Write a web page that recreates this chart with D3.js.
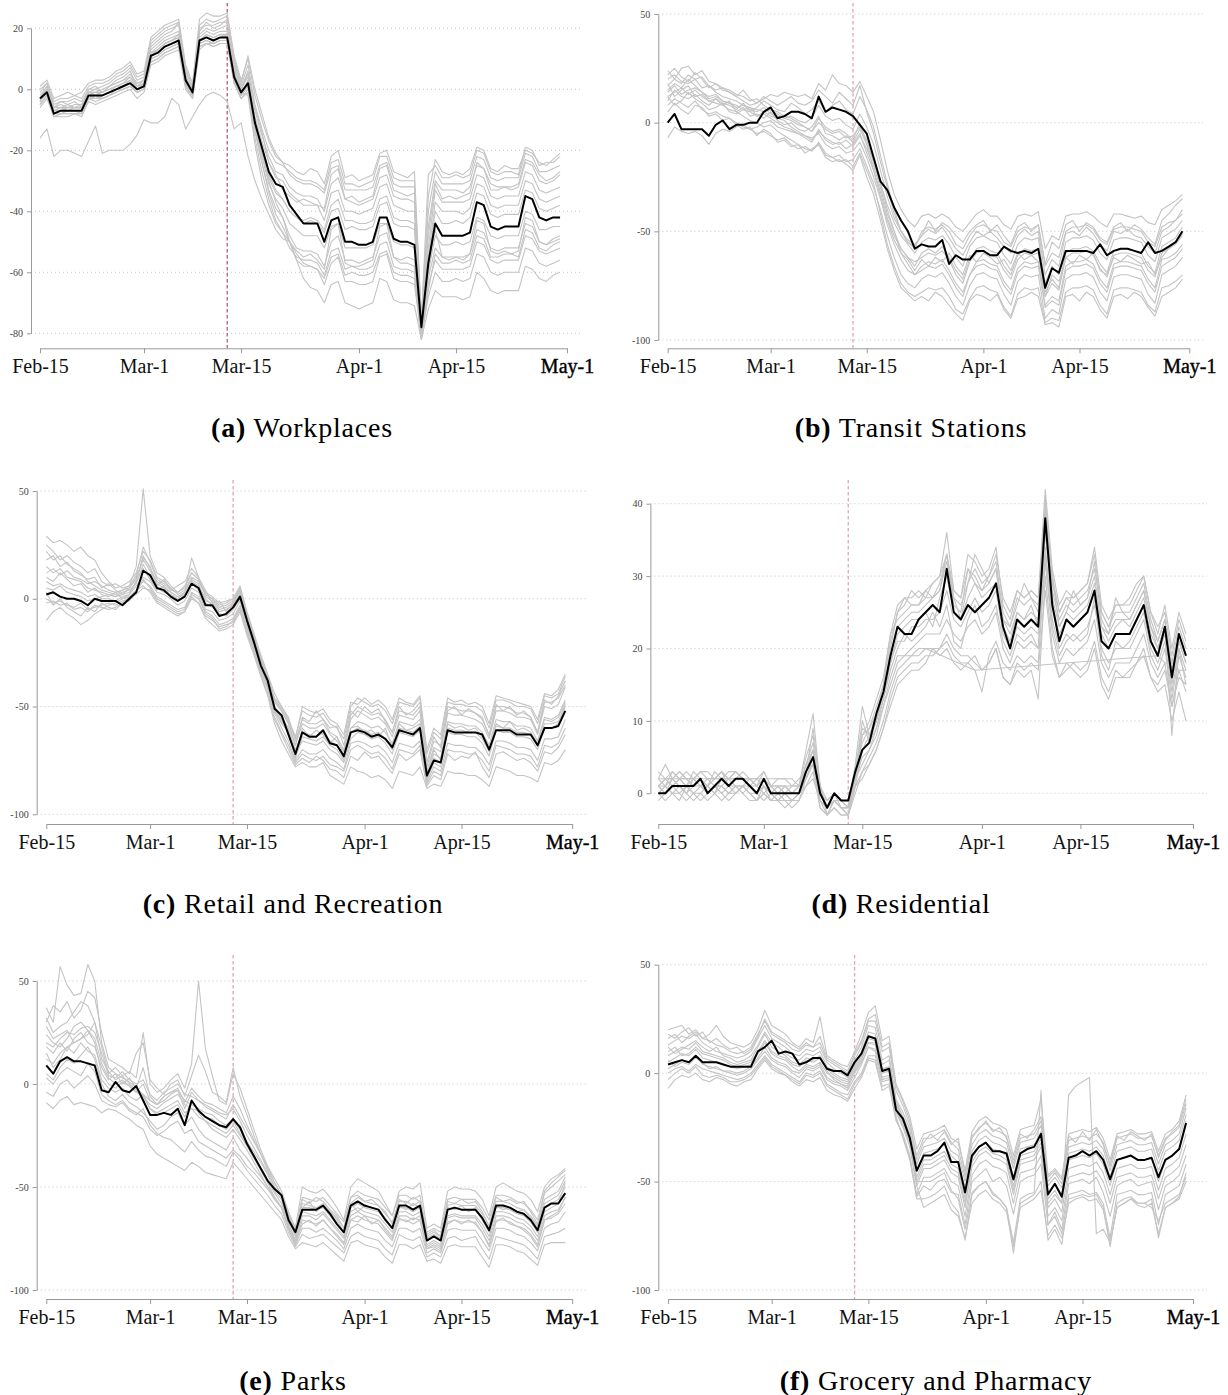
<!DOCTYPE html>
<html>
<head>
<meta charset="utf-8">
<script src="https://cdn.jsdelivr.net/npm/d3@7"></script>
<style>
  body { margin: 0; background: #fff; }
  svg { display: block; }
</style>
</head>
<body>
<svg id="fig" width="1228" height="1395"></svg>
<script>
// days are counted from Feb-15 (0) to Apr-30 (75)
const tickLabels = ["Feb-15", "Mar-1", "Mar-15", "Apr-1", "Apr-15", "May-1"];
const tickDays = [0, 15, 29, 46, 60, 76];
const lockdownDay = 27;

// (a) Workplaces
const workplacesTicks = [20, 0, -20, -40, -60, -80];
const workplacesMain = [-3,-1,-8,-7,-7,-7,-7,-2,-2,-2,-1,0,1,2,0,1,11,12,14,15,16,3,-1,16,17,16,17,17,4,-1,2,-11,-19,-27,-31,-32,-38,-41,-44,-44,-44,-50,-43,-42,-50,-50,-51,-51,-50,-42,-42,-49,-50,-50,-51,-78,-57,-44,-48,-48,-48,-48,-47,-37,-38,-45,-46,-45,-45,-45,-35,-36,-42,-43,-42,-42];
const workplacesOthers = [
  [-2,1,-5,-4,-4,-3,-4,0,0,1,2,4,5,7,3,4,15,17,19,20,21,6,0,20,21,21,22,22,9,1,8,-5,-13,-20,-24,-25,-27,-29,-30,-30,-31,-33,-24,-23,-31,-31,-32,-31,-30,-22,-22,-29,-30,-30,-30,-76,-28,-25,-29,-29,-28,-29,-28,-20,-21,-27,-28,-27,-27,-28,-19,-20,-25,-24,-24,-22],
  [-4,0,-6,-5,-6,-5,-5,-1,-1,0,1,2,3,5,2,3,13,15,17,18,19,4,-1,18,20,19,20,21,7,0,5,-7,-15,-22,-27,-28,-32,-34,-35,-35,-36,-40,-31,-29,-36,-37,-38,-37,-36,-29,-28,-35,-36,-36,-37,-79,-45,-30,-33,-33,-33,-34,-32,-25,-26,-31,-32,-32,-32,-31,-23,-24,-28,-30,-29,-27],
  [-3,1,-7,-6,-6,-6,-5,-1,-2,-1,0,1,2,4,1,2,12,14,16,17,18,3,-2,17,19,18,19,19,6,-2,3,-9,-17,-24,-29,-30,-34,-36,-38,-38,-38,-43,-34,-33,-40,-40,-41,-40,-39,-32,-31,-38,-39,-40,-40,-80,-52,-33,-37,-37,-37,-37,-36,-28,-29,-35,-36,-35,-35,-35,-27,-28,-33,-34,-33,-32],
  [-5,-2,-9,-8,-8,-8,-8,-3,-3,-3,-2,-1,0,1,-1,0,10,11,13,14,15,2,-2,15,16,15,16,16,3,-2,1,-12,-21,-29,-34,-36,-40,-42,-43,-42,-43,-46,-38,-36,-43,-43,-44,-44,-43,-36,-35,-42,-43,-43,-44,-81,-55,-37,-40,-40,-40,-41,-39,-31,-32,-38,-39,-38,-38,-38,-30,-31,-36,-37,-36,-35],
  [-6,-3,-9,-9,-9,-8,-9,-4,-5,-4,-3,-2,-1,0,-3,-1,8,9,11,12,13,0,-3,14,15,14,15,15,2,-3,0,-14,-24,-33,-39,-42,-48,-52,-53,-53,-54,-58,-50,-48,-56,-56,-57,-56,-55,-48,-47,-55,-56,-55,-56,-82,-62,-52,-55,-55,-55,-55,-54,-46,-47,-52,-53,-52,-52,-52,-44,-45,-50,-51,-50,-49],
  [-3,0,-6,-6,-5,-6,-6,-1,0,-1,1,2,3,4,2,3,12,13,15,16,17,4,0,16,18,17,18,18,5,0,4,-10,-20,-30,-37,-42,-50,-56,-58,-58,-59,-62,-55,-54,-61,-60,-61,-61,-60,-54,-53,-60,-61,-61,-62,-82,-64,-56,-59,-59,-59,-59,-58,-50,-51,-56,-57,-56,-56,-56,-48,-49,-53,-54,-53,-52],
  [-16,-13,-22,-20,-20,-21,-22,-17,-12,-21,-20,-20,-20,-18,-15,-10,-11,-11,-9,-3,-5,-13,-9,-5,-2,-1,-2,-4,-13,-11,-22,-30,-36,-41,-46,-49,-50,-56,-62,-65,-66,-70,-64,-63,-70,-71,-72,-71,-70,-62,-63,-69,-70,-70,-71,-82,-72,-66,-68,-68,-68,-69,-68,-60,-62,-66,-67,-66,-66,-66,-58,-59,-62,-63,-61,-60],
  [0,2,-4,-3,-3,-2,-3,1,2,2,3,5,6,8,4,5,16,18,20,21,22,7,1,21,23,22,23,24,10,2,11,0,-8,-16,-21,-24,-28,-30,-31,-31,-32,-34,-26,-25,-33,-33,-33,-33,-32,-25,-24,-31,-32,-32,-32,-77,-40,-27,-31,-31,-31,-31,-30,-22,-23,-29,-30,-29,-29,-29,-21,-22,-27,-27,-26,-25],
  [-4,-1,-8,-8,-7,-7,-8,-3,-2,-3,-2,0,0,1,-1,0,9,10,12,13,14,2,-2,15,16,15,16,16,3,-1,1,-13,-22,-31,-36,-39,-44,-46,-48,-48,-48,-52,-45,-44,-52,-52,-52,-52,-51,-44,-44,-50,-51,-51,-52,-80,-60,-48,-51,-51,-50,-51,-50,-42,-43,-48,-49,-48,-48,-48,-40,-41,-46,-46,-45,-45],
  [-5,-2,-8,-7,-7,-7,-7,-2,-3,-2,-1,0,1,2,0,1,10,11,13,14,15,1,-2,14,15,15,16,16,2,-2,1,-13,-24,-34,-41,-45,-50,-54,-57,-58,-59,-64,-57,-55,-63,-63,-64,-64,-63,-55,-54,-62,-63,-63,-64,-81,-68,-60,-63,-63,-62,-63,-62,-54,-55,-60,-61,-60,-60,-60,-52,-53,-57,-58,-57,-56],
  [-1,2,-6,-4,-5,-4,-6,0,1,-1,1,3,4,6,1,3,14,16,18,19,22,5,-2,19,22,20,21,23,8,0,6,-6,-14,-24,-28,-33,-35,-37,-36,-37,-38,-39,-28,-26,-36,-35,-37,-36,-35,-26,-25,-33,-34,-35,-34,-78,-48,-31,-36,-35,-36,-35,-34,-24,-26,-33,-33,-32,-33,-32,-24,-25,-30,-31,-30,-28],
  [-4,-1,-7,-6,-7,-6,-6,-2,-1,-2,-1,1,1,3,0,2,11,13,15,16,18,2,-1,16,18,17,18,17,4,-1,-2,-18,-30,-38,-44,-47,-50,-53,-55,-54,-56,-59,-46,-44,-57,-58,-58,-57,-56,-45,-44,-55,-57,-57,-58,-81,-58,-46,-55,-56,-55,-56,-54,-43,-44,-53,-54,-53,-54,-53,-42,-43,-50,-51,-49,-48],
  [1,3,-3,-2,-1,-2,-1,2,3,3,4,6,7,9,5,6,17,19,21,22,23,8,2,23,25,24,24,25,11,3,10,-2,-10,-17,-22,-24,-25,-27,-28,-26,-27,-31,-22,-20,-29,-28,-30,-29,-28,-21,-20,-27,-28,-29,-27,-75,-35,-23,-27,-28,-27,-28,-26,-19,-20,-26,-27,-25,-26,-26,-20,-21,-24,-25,-23,-21],
  [-3,0,-7,-7,-6,-6,-6,-1,-1,-1,0,1,2,3,1,2,12,13,15,16,17,3,-1,16,17,16,17,18,4,-1,2,-11,-20,-28,-33,-36,-40,-42,-44,-43,-44,-47,-40,-39,-46,-45,-46,-46,-45,-38,-37,-44,-45,-45,-46,-80,-57,-40,-44,-44,-43,-44,-42,-34,-35,-41,-42,-41,-41,-41,-33,-34,-39,-40,-39,-38],
  [-5,-2,-9,-8,-8,-8,-8,-3,-4,-3,-2,-1,0,1,-1,0,9,10,12,13,14,1,-3,13,15,14,15,15,2,-3,-1,-16,-27,-36,-43,-47,-52,-55,-56,-56,-57,-61,-53,-52,-59,-58,-59,-59,-58,-51,-50,-58,-59,-59,-60,-82,-66,-54,-57,-57,-56,-57,-56,-48,-49,-55,-55,-54,-54,-55,-46,-47,-52,-53,-51,-50]
];

// (b) Transit Stations
const transitTicks = [50, 0, -50, -100];
const transitMain = [0,4,-3,-3,-3,-3,-6,-1,1,-3,-1,-1,0,0,5,7,2,3,5,5,4,2,12,5,7,6,5,3,-1,-5,-16,-27,-31,-39,-45,-50,-58,-56,-57,-57,-54,-65,-61,-63,-63,-59,-59,-61,-61,-57,-59,-60,-59,-60,-58,-76,-67,-69,-59,-59,-59,-59,-60,-56,-61,-59,-58,-58,-59,-60,-55,-60,-59,-57,-55,-50];
const transitOthers = [
  [17,20,18,22,20,21,17,15,16,14,12,10,8,9,11,13,12,14,13,12,13,11,18,15,22,18,17,14,19,12,5,-8,-22,-33,-40,-45,-48,-43,-42,-44,-42,-44,-48,-50,-46,-42,-40,-43,-43,-47,-49,-43,-42,-43,-41,-58,-52,-54,-43,-42,-42,-41,-43,-46,-48,-42,-42,-43,-44,-43,-46,-47,-40,-38,-36,-33],
  [10,15,12,11,13,10,8,11,9,8,6,9,5,7,10,8,6,5,9,7,4,6,10,5,8,10,6,4,12,6,-2,-15,-28,-40,-50,-55,-58,-50,-48,-49,-47,-50,-56,-58,-52,-48,-47,-49,-50,-55,-57,-50,-48,-49,-47,-66,-60,-62,-50,-48,-48,-47,-49,-54,-56,-49,-48,-48,-49,-50,-55,-57,-48,-46,-45,-42],
  [15,18,16,20,17,14,12,13,10,9,8,6,5,3,4,2,0,-2,-3,-5,-6,-8,-4,-7,-9,-10,-8,-11,-6,-12,-20,-30,-42,-50,-58,-62,-66,-60,-58,-60,-57,-62,-68,-72,-63,-58,-57,-59,-60,-66,-70,-61,-58,-59,-58,-78,-72,-76,-60,-58,-58,-57,-59,-65,-69,-59,-58,-58,-59,-60,-66,-69,-57,-55,-53,-48],
  [20,22,19,18,20,16,17,14,12,11,10,8,7,6,5,3,2,1,-2,-4,-6,-7,-5,-10,-12,-11,-14,-13,-9,-16,-25,-35,-47,-56,-63,-68,-70,-66,-64,-65,-63,-68,-74,-78,-70,-64,-63,-65,-66,-73,-77,-67,-64,-65,-64,-84,-80,-82,-66,-64,-64,-63,-65,-72,-76,-65,-64,-64,-65,-66,-72,-76,-63,-62,-60,-56],
  [12,14,16,13,15,12,10,9,8,6,5,3,1,0,-2,-1,-4,-6,-8,-10,-12,-13,-10,-15,-16,-18,-17,-20,-14,-22,-30,-40,-52,-62,-70,-74,-76,-72,-70,-71,-69,-74,-80,-84,-75,-70,-69,-71,-72,-79,-84,-73,-70,-71,-70,-90,-86,-88,-72,-70,-70,-69,-71,-78,-82,-71,-70,-70,-71,-72,-79,-83,-70,-68,-66,-62],
  [8,11,9,7,10,6,4,5,3,2,0,-2,-3,-5,-4,-6,-8,-7,-10,-12,-11,-13,-9,-14,-16,-15,-18,-17,-12,-20,-28,-42,-56,-66,-74,-78,-80,-78,-76,-77,-76,-80,-86,-88,-81,-76,-75,-77,-78,-85,-89,-79,-76,-77,-76,-92,-90,-91,-78,-76,-76,-75,-77,-84,-88,-77,-76,-76,-77,-78,-84,-87,-76,-75,-73,-70],
  [-7,-2,-4,-5,-4,-6,-10,-5,-3,-4,-2,-1,-3,-2,0,1,-2,-3,-4,-5,-7,-9,-3,-8,-10,-9,-12,-10,-5,-14,-22,-32,-44,-52,-58,-62,-64,-62,-60,-61,-59,-63,-70,-74,-64,-60,-59,-61,-62,-68,-72,-63,-60,-61,-60,-80,-74,-77,-62,-60,-60,-59,-61,-67,-71,-61,-60,-60,-61,-62,-68,-71,-60,-58,-55,-51],
  [24,20,25,26,22,24,19,18,16,15,13,12,10,11,8,6,5,3,2,0,-2,-4,0,-3,-5,-4,-7,-6,-2,-8,-18,-28,-40,-50,-60,-65,-70,-68,-66,-67,-65,-70,-76,-80,-70,-66,-65,-67,-68,-75,-79,-69,-66,-67,-66,-85,-82,-84,-68,-66,-66,-65,-67,-74,-78,-67,-66,-66,-67,-68,-74,-78,-66,-64,-62,-58],
  [14,17,13,15,16,14,11,12,10,9,7,8,6,5,7,4,3,2,1,-1,-2,-4,2,-2,-4,-3,-5,-8,0,-10,-18,-28,-38,-46,-52,-56,-60,-55,-53,-54,-52,-56,-62,-66,-57,-53,-52,-54,-55,-61,-65,-56,-53,-54,-53,-74,-66,-70,-55,-53,-53,-52,-54,-60,-63,-54,-53,-53,-54,-55,-61,-64,-53,-51,-49,-45],
  [22,25,21,19,23,20,16,18,15,14,12,15,11,9,12,10,8,10,12,9,8,10,15,12,9,14,11,8,17,5,-5,-18,-30,-42,-50,-55,-57,-52,-45,-50,-46,-48,-52,-55,-50,-47,-45,-50,-47,-52,-56,-48,-46,-50,-47,-65,-55,-58,-47,-45,-50,-46,-48,-53,-55,-48,-46,-50,-47,-49,-53,-56,-45,-42,-38,-35],
  [5,9,6,4,8,7,3,4,1,2,-1,-3,-2,-6,-3,-5,-9,-8,-11,-10,-14,-12,-10,-16,-18,-17,-19,-22,-15,-25,-33,-45,-58,-68,-76,-79,-82,-80,-82,-78,-80,-84,-88,-91,-82,-79,-80,-82,-79,-86,-90,-81,-80,-78,-80,-93,-92,-94,-80,-79,-82,-78,-80,-86,-90,-80,-79,-81,-78,-80,-85,-89,-80,-78,-76,-72],
  [18,12,15,17,12,13,10,11,8,10,5,7,3,4,2,5,1,-1,0,-3,-4,-2,3,-5,-6,-8,-6,-9,-3,-10,-22,-34,-45,-54,-60,-63,-68,-63,-66,-62,-64,-60,-66,-70,-61,-64,-60,-62,-65,-63,-68,-60,-63,-61,-64,-80,-70,-73,-62,-65,-61,-63,-60,-68,-70,-62,-64,-61,-63,-65,-64,-70,-62,-58,-56,-52],
  [12,8,10,14,11,9,6,7,9,5,4,6,7,3,5,6,4,2,3,1,0,2,8,3,1,2,-1,-3,4,-2,-10,-22,-34,-44,-50,-54,-56,-52,-49,-51,-48,-53,-58,-61,-55,-50,-52,-50,-53,-57,-60,-52,-49,-52,-50,-70,-63,-66,-51,-50,-52,-48,-51,-56,-59,-50,-51,-49,-52,-53,-57,-60,-50,-48,-45,-40]
];

// (c) Retail and Recreation
const retailTicks = [50, 0, -50, -100];
const retailMain = [2,3,1,0,0,-1,-3,0,-1,-1,-1,-3,0,3,13,11,5,4,1,-1,1,7,5,-3,-3,-8,-7,-4,1,-10,-20,-31,-38,-51,-54,-63,-72,-62,-64,-64,-61,-67,-68,-73,-62,-61,-62,-64,-63,-65,-69,-61,-62,-63,-60,-82,-75,-76,-61,-62,-62,-62,-62,-63,-70,-61,-61,-61,-63,-63,-63,-68,-60,-60,-59,-52];
const retailOthers = [
  [29,26,27,25,22,24,20,18,12,8,5,6,8,12,22,18,10,8,5,2,4,10,8,2,0,-4,-3,-1,4,-8,-18,-28,-36,-46,-50,-56,-64,-52,-54,-55,-53,-58,-60,-65,-50,-46,-48,-50,-49,-52,-58,-48,-49,-50,-46,-72,-62,-65,-48,-49,-49,-50,-50,-52,-60,-47,-47,-48,-50,-50,-51,-58,-45,-46,-44,-36],
  [22,18,20,16,14,12,8,6,4,3,2,4,6,15,51,20,12,10,6,3,5,12,9,3,1,-2,-1,0,6,-6,-16,-26,-35,-44,-50,-55,-66,-56,-58,-58,-56,-62,-64,-70,-54,-50,-52,-54,-53,-56,-62,-52,-53,-54,-50,-78,-66,-68,-50,-51,-52,-52,-53,-56,-63,-50,-50,-51,-53,-53,-55,-62,-48,-48,-46,-40],
  [15,12,14,10,9,8,5,4,3,2,1,2,3,8,20,14,8,6,3,1,2,8,6,0,-3,-6,-5,-3,3,-10,-20,-30,-38,-50,-55,-60,-70,-62,-63,-64,-62,-66,-68,-74,-60,-57,-58,-60,-59,-62,-67,-57,-58,-59,-56,-82,-72,-74,-57,-58,-58,-59,-59,-62,-68,-56,-57,-57,-59,-59,-60,-66,-55,-56,-54,-47],
  [8,6,7,5,4,3,1,2,0,0,-1,1,2,6,10,8,3,2,0,-3,-1,5,3,-5,-6,-10,-9,-7,-1,-13,-22,-32,-40,-52,-58,-62,-72,-66,-67,-68,-66,-70,-72,-76,-65,-62,-63,-65,-64,-67,-72,-62,-63,-64,-61,-84,-76,-78,-62,-63,-63,-64,-64,-67,-73,-61,-62,-62,-64,-64,-65,-70,-60,-60,-58,-50],
  [0,-2,-1,-3,-4,-2,-5,-4,-3,-2,-3,-1,0,4,8,6,1,-1,-3,-5,-4,3,1,-6,-8,-12,-11,-9,-3,-15,-24,-34,-42,-55,-62,-68,-76,-72,-74,-75,-73,-77,-78,-80,-70,-68,-70,-72,-71,-74,-79,-70,-71,-72,-68,-86,-80,-82,-70,-71,-71,-72,-72,-75,-80,-68,-69,-70,-72,-72,-73,-78,-68,-69,-67,-60],
  [-10,-6,-4,-7,-9,-12,-10,-7,-5,-3,-2,0,1,4,6,3,-2,-4,-6,-8,-6,0,-2,-9,-12,-15,-14,-12,-6,-17,-26,-36,-45,-58,-66,-72,-78,-76,-78,-78,-76,-82,-84,-86,-78,-80,-81,-83,-82,-84,-88,-80,-81,-82,-78,-88,-86,-87,-80,-81,-81,-82,-82,-84,-87,-78,-79,-80,-82,-82,-83,-85,-76,-77,-75,-70],
  [5,4,6,3,2,1,-1,0,1,2,1,3,4,7,16,10,5,3,2,0,3,9,7,-1,-2,-6,-5,-3,2,-11,-21,-31,-39,-50,-56,-62,-74,-64,-65,-66,-64,-68,-70,-75,-62,-60,-61,-63,-62,-65,-70,-60,-61,-62,-59,-83,-74,-76,-60,-61,-61,-62,-62,-65,-71,-59,-60,-60,-62,-62,-63,-68,-58,-58,-57,-49],
  [12,14,11,13,10,9,7,8,6,4,3,4,5,10,18,13,7,5,3,1,3,19,10,1,-1,-5,-4,-2,4,-8,-17,-27,-36,-47,-52,-58,-68,-58,-60,-60,-58,-63,-66,-71,-56,-52,-54,-56,-55,-58,-64,-54,-55,-56,-52,-80,-69,-71,-53,-54,-54,-55,-56,-58,-65,-52,-52,-53,-55,-55,-56,-63,-50,-51,-49,-41],
  [-2,-1,-3,-2,-5,-4,-6,-3,-4,-5,-4,-2,-1,3,9,5,0,-2,-4,-6,-5,2,0,-7,-9,-14,-13,-10,-4,-14,-23,-33,-41,-53,-60,-66,-75,-70,-72,-72,-70,-74,-76,-79,-67,-66,-67,-69,-68,-71,-76,-67,-68,-69,-66,-85,-78,-80,-67,-68,-68,-69,-69,-72,-77,-66,-66,-67,-69,-69,-70,-75,-65,-65,-64,-56],
  [18,20,15,17,13,11,9,10,5,7,4,2,5,9,19,15,6,9,4,6,8,14,10,4,-2,-1,-6,-2,5,-7,-17,-29,-37,-48,-52,-58,-68,-55,-57,-52,-56,-60,-59,-68,-52,-55,-50,-53,-51,-57,-62,-50,-54,-52,-48,-76,-64,-69,-52,-50,-54,-51,-53,-55,-64,-49,-52,-50,-54,-52,-55,-62,-47,-49,-45,-38],
  [3,-3,0,-4,-6,-8,-4,-6,-2,-4,-5,-2,1,2,5,4,-1,-3,-5,-7,-6,1,-2,-8,-10,-13,-12,-11,-5,-16,-25,-35,-44,-56,-63,-70,-77,-74,-76,-73,-75,-79,-80,-83,-73,-75,-71,-74,-73,-77,-81,-72,-75,-73,-70,-87,-82,-84,-72,-75,-73,-74,-71,-78,-83,-72,-71,-73,-75,-74,-76,-80,-71,-72,-69,-63],
  [10,8,12,9,6,7,3,5,2,1,3,0,2,8,14,9,4,6,1,-1,2,7,4,-2,-4,-7,-8,-5,0,-12,-21,-31,-39,-51,-57,-61,-73,-60,-64,-61,-63,-67,-64,-73,-60,-59,-62,-61,-64,-60,-69,-58,-61,-60,-58,-83,-70,-75,-58,-60,-59,-61,-60,-64,-70,-58,-60,-57,-61,-60,-62,-67,-56,-57,-55,-48],
  [25,22,18,20,17,15,12,14,8,6,7,5,6,11,24,17,9,7,4,3,6,12,9,2,0,-3,-2,0,5,-9,-19,-29,-37,-47,-51,-57,-65,-50,-52,-53,-51,-56,-58,-63,-48,-49,-46,-49,-47,-50,-56,-46,-48,-49,-45,-70,-60,-63,-46,-48,-47,-49,-48,-50,-58,-45,-46,-47,-48,-49,-50,-56,-44,-45,-42,-35]
];

// (d) Residential
const residentialTicks = [40, 30, 20, 10, 0];
const residentialMain = [0,0,1,1,1,1,2,0,1,2,1,2,2,1,0,2,0,0,0,0,0,3,5,0,-2,0,-1,-1,3,6,7,11,14,19,23,22,22,24,25,26,25,31,25,24,26,25,26,27,29,23,20,24,23,24,23,38,26,21,24,23,24,25,28,21,20,22,22,22,24,26,21,19,23,16,22,19];
const residentialOthers = [
  [2,4,2,3,2,1,2,1,3,2,2,3,2,2,1,3,1,1,1,0,1,6,11,1,-3,-1,-2,-2,4,12,8,10,14,20,25,26,28,27,28,29,30,36,28,27,33,32,30,31,34,26,24,28,27,28,27,42,31,26,28,27,28,29,34,26,24,26,26,26,28,30,25,22,26,20,25,22],
  [1,2,3,2,2,1,2,1,2,3,2,2,3,2,1,2,1,0,1,1,1,4,7,0,-2,0,-1,-2,3,7,9,12,15,21,25,27,26,26,27,27,28,32,27,26,29,31,29,30,32,25,23,27,26,27,26,40,29,25,27,26,27,28,31,25,23,25,25,25,27,29,24,21,24,18,23,20],
  [0,1,2,1,0,1,1,0,1,1,0,1,1,0,-1,1,0,-1,0,0,0,3,6,-1,-3,-1,-2,-3,2,5,6,9,13,18,21,21,23,23,24,24,25,28,24,23,25,27,25,26,28,22,20,23,22,23,22,36,26,22,24,23,24,25,28,22,20,22,22,22,24,26,21,19,22,15,21,18],
  [1,0,1,2,1,0,1,2,1,0,1,1,0,1,0,1,-1,0,-1,-1,0,2,5,0,-2,-1,-2,-2,2,4,6,8,12,16,19,19,20,21,22,22,22,24,22,21,23,24,22,23,25,20,18,21,20,21,20,34,24,20,22,21,22,23,26,20,18,20,20,20,22,24,19,17,20,13,19,16],
  [2,2,2,2,2,2,2,2,2,2,2,2,2,2,2,2,2,2,2,2,1,3,4,-1,-2,-1,-2,-3,1,6,7,9,12,15,18,19,19,20,20,null,null,null,null,null,null,17,null,null,null,null,null,null,null,null,null,null,null,null,null,null,null,null,null,null,null,null,null,null,null,null,null,19,18,18,17,17],
  [0,-1,0,1,0,-1,0,1,0,-1,0,1,0,-1,-1,0,-1,-1,-2,-1,-1,2,4,-2,-3,-2,-3,-3,1,3,5,7,10,14,17,18,19,19,20,20,20,22,20,19,19,18,17,18,20,16,15,17,16,17,13,30,20,16,18,17,16,17,20,15,13,16,16,16,18,20,16,14,15,10,14,10],
  [1,1,0,0,1,2,1,0,1,1,2,1,1,1,0,1,0,1,0,-1,0,4,6,0,-2,0,-2,-2,2,8,9,11,14,19,23,24,25,25,26,27,28,33,26,25,31,29,28,29,31,24,22,25,24,25,24,41,28,24,26,25,26,27,32,24,22,24,24,24,26,28,23,20,23,8,20,15],
  [-1,0,1,0,-1,0,0,-1,0,1,0,0,1,0,-1,0,-1,-1,-1,-2,-1,1,3,-2,-3,-2,-3,-3,0,3,4,6,9,13,16,17,18,18,19,19,20,21,19,18,18,17,14,19,21,18,17,19,18,19,18,32,22,18,20,19,20,21,24,18,16,18,18,18,20,22,18,16,18,12,17,14],
  [1,2,1,2,3,2,3,2,2,3,2,3,2,1,1,2,1,1,1,0,1,5,8,1,-2,0,-1,-1,3,9,8,11,15,22,26,27,27,28,27,29,30,33,28,27,31,30,28,30,33,27,25,28,27,28,27,39,30,25,27,27,28,29,33,25,23,26,26,27,29,30,25,23,25,19,24,21],
  [2,1,3,2,1,3,2,1,2,3,1,2,2,1,2,1,0,1,0,1,2,3,9,1,-1,0,-1,-1,3,8,10,13,16,22,24,25,26,26,28,27,29,33,27,24,29,33,31,29,31,24,23,26,29,27,25,37,30,23,25,28,26,27,30,23,22,27,25,24,26,28,23,21,24,17,22,19],
  [0,1,0,-1,1,0,-1,0,1,0,-1,0,1,0,0,-1,0,-1,0,-1,0,1,2,-1,-2,-1,-2,-2,1,2,4,6,9,12,15,16,17,17,18,20,19,20,18,17,18,19,17,18,20,16,15,18,17,18,17,28,19,16,17,18,17,18,21,16,14,17,16,17,18,19,16,15,17,12,16,15],
  [3,2,2,3,2,2,3,3,2,2,3,3,2,2,2,3,1,2,2,1,1,3,6,0,-1,0,-1,-1,3,10,7,10,14,18,22,23,24,24,25,23,27,30,25,24,27,29,27,28,29,23,21,25,24,26,23,38,27,23,25,24,25,26,29,23,21,23,24,23,25,27,22,20,23,16,21,18],
  [1,0,2,1,0,2,1,1,0,2,1,0,1,2,1,0,1,0,1,0,0,2,4,0,-2,-1,-1,-2,2,6,8,10,13,17,20,22,21,22,23,25,23,26,21,20,24,26,23,24,26,21,19,22,21,22,20,33,23,19,21,22,21,22,27,19,17,21,20,21,23,25,20,18,21,14,20,17]
];

// (e) Parks
const parksTicks = [50, 0, -50, -100];
const parksMain = [9,5,11,13,11,11,10,9,-3,-4,1,-3,-4,-1,-8,-15,-15,-14,-15,-12,-20,-8,-13,-16,-18,-20,-21,-17,-21,-29,-35,-41,-47,-51,-54,-66,-72,-61,-61,-61,-59,-63,-68,-72,-59,-57,-59,-60,-61,-66,-70,-59,-59,-61,-59,-76,-74,-76,-61,-60,-61,-61,-61,-65,-71,-59,-59,-60,-62,-63,-66,-71,-60,-58,-58,-53];
const parksOthers = [
  [37,30,57,48,43,44,58,50,20,8,5,3,1,-2,-5,-8,-10,-6,-4,-3,-8,-10,-12,-14,-15,-18,-20,-17,-22,-28,-33,-38,-44,-52,-56,-68,-76,-62,-63,-64,-62,-66,-70,-74,-62,-60,-62,-63,-64,-68,-72,-62,-62,-64,-62,-78,-76,-78,-64,-63,-64,-64,-64,-68,-74,-62,-62,-63,-65,-66,-69,-74,-62,-60,-58,-48],
  [32,25,28,30,35,40,38,30,12,6,2,4,0,-3,-6,-10,-12,-9,-7,-5,-10,-12,-13,-16,-17,-20,-22,-18,-24,-30,-36,-42,-48,-55,-60,-70,-78,-66,-67,-68,-66,-70,-74,-78,-66,-64,-66,-67,-68,-72,-76,-66,-66,-68,-66,-80,-79,-81,-67,-66,-67,-67,-67,-72,-78,-66,-66,-67,-69,-70,-73,-78,-66,-64,-62,-55],
  [20,18,22,25,24,27,28,25,15,4,3,6,2,0,2,-5,-8,-4,-2,0,-5,-6,-8,-10,-12,-14,-15,-12,-18,-25,-31,-37,-43,-50,-55,-64,-72,-58,-59,-60,-58,-62,-65,-70,-58,-55,-57,-58,-59,-63,-67,-57,-57,-59,-57,-74,-72,-74,-59,-58,-59,-59,-59,-63,-69,-57,-57,-58,-60,-61,-64,-69,-56,-54,-52,-45],
  [12,10,15,18,20,22,26,20,5,0,-2,1,-1,-4,-6,-12,-14,-12,-10,-8,-14,-12,-16,-18,-20,-22,-24,-20,-25,-30,-36,-41,-47,-53,-58,-68,-76,-64,-64,-66,-63,-67,-71,-75,-64,-62,-64,-65,-66,-70,-74,-64,-64,-66,-64,-79,-77,-79,-65,-64,-65,-65,-65,-70,-76,-64,-64,-65,-67,-68,-71,-76,-64,-62,-61,-55],
  [3,0,5,8,6,4,10,6,-5,-8,-10,-8,-12,-14,-16,-22,-25,-23,-20,-18,-24,-22,-28,-30,-32,-34,-36,-32,-35,-40,-43,-47,-51,-56,-60,-70,-78,-70,-70,-72,-70,-73,-76,-80,-70,-68,-70,-71,-72,-76,-79,-70,-70,-72,-70,-82,-80,-82,-71,-70,-71,-71,-71,-76,-81,-70,-70,-71,-73,-74,-77,-81,-70,-68,-67,-62],
  [-9,-12,-8,-6,-10,-9,-10,-11,-14,-12,-13,-15,-17,-20,-22,-30,-34,-36,-38,-40,-42,-38,-40,-43,-44,-45,-46,-38,-42,-46,-50,-54,-58,-62,-66,-74,-80,-77,-78,-79,-77,-80,-83,-86,-77,-76,-78,-79,-80,-84,-87,-78,-78,-80,-78,-86,-85,-87,-79,-78,-79,-79,-79,-84,-89,-78,-78,-79,-81,-82,-85,-88,-78,-77,-77,-77],
  [28,22,24,26,20,22,24,30,18,5,8,4,6,3,25,0,-4,-2,2,5,-2,10,50,17,4,-8,-10,5,-2,-12,-22,-32,-40,-48,-54,-63,-70,-55,-56,-57,-55,-59,-63,-67,-55,-52,-54,-55,-56,-60,-64,-54,-54,-56,-54,-72,-70,-72,-56,-55,-56,-56,-56,-60,-66,-54,-54,-55,-57,-58,-61,-66,-52,-48,-45,-42],
  [15,8,12,18,15,20,16,14,2,-2,-4,-2,-6,-8,-5,-12,-15,-14,-12,-10,-16,-8,-14,-18,-22,-24,-26,-22,-27,-32,-38,-44,-50,-55,-60,-70,-76,-60,-60,-61,-60,-64,-68,-72,-60,-58,-60,-61,-62,-66,-70,-60,-60,-62,-60,-76,-74,-76,-61,-60,-61,-61,-61,-66,-72,-60,-60,-61,-63,-64,-67,-72,-60,-58,-56,-50],
  [24,20,18,22,28,30,26,22,10,3,0,2,-1,-4,0,-8,-10,-8,-5,-3,-12,-4,-8,-11,-13,-15,-17,-10,-16,-22,-28,-34,-40,-46,-52,-62,-70,-50,-52,-53,-51,-55,-60,-66,-50,-46,-48,-50,-52,-58,-64,-52,-50,-51,-48,-70,-68,-70,-52,-50,-51,-51,-52,-56,-64,-50,-48,-50,-52,-53,-56,-62,-50,-46,-44,-41],
  [30,38,35,40,32,36,45,42,25,12,10,8,5,15,20,2,-2,-5,0,2,-6,4,14,6,-4,-6,-9,8,-6,-15,-25,-34,-42,-50,-55,-64,-72,-56,-58,-55,-57,-61,-64,-70,-55,-54,-57,-56,-59,-62,-68,-56,-58,-55,-57,-73,-71,-74,-57,-58,-56,-58,-57,-62,-69,-55,-57,-56,-58,-57,-62,-68,-53,-50,-47,-44],
  [5,2,8,12,10,14,18,12,0,-6,-8,-5,-9,-11,-14,-18,-22,-20,-16,-14,-20,-16,-22,-26,-28,-30,-32,-26,-32,-36,-41,-45,-50,-56,-60,-70,-77,-68,-66,-69,-66,-70,-73,-77,-66,-67,-64,-68,-66,-71,-75,-65,-67,-65,-66,-80,-78,-80,-68,-66,-68,-66,-68,-72,-79,-67,-65,-68,-69,-71,-74,-79,-66,-65,-63,-58],
  [18,15,20,16,22,25,20,18,8,2,5,0,3,-2,8,-6,-10,-6,-4,-2,-9,-2,-6,-9,-10,-12,-14,-6,-12,-20,-27,-34,-41,-48,-54,-66,-74,-60,-57,-62,-59,-62,-66,-72,-58,-62,-59,-60,-61,-65,-70,-59,-61,-58,-60,-75,-73,-75,-60,-61,-59,-62,-60,-65,-71,-59,-61,-60,-62,-61,-65,-70,-58,-56,-54,-47],
  [-4,-6,0,2,-2,1,4,0,-8,-10,-11,-9,-13,-15,-12,-20,-24,-26,-27,-30,-33,-28,-32,-35,-36,-38,-40,-33,-37,-42,-46,-50,-54,-59,-63,-72,-79,-73,-75,-74,-73,-76,-79,-82,-74,-72,-74,-75,-76,-80,-83,-73,-75,-76,-74,-84,-82,-84,-75,-74,-76,-75,-74,-80,-85,-74,-75,-76,-77,-78,-81,-85,-74,-73,-72,-70]
];

// (f) Grocery and Pharmacy
const groceryTicks = [50, 0, -50, -100];
const groceryMain = [4,5,6,5,8,5,5,5,4,3,3,3,3,10,12,15,9,10,9,4,5,7,7,2,1,1,-1,5,9,17,16,1,2,-17,-21,-30,-45,-38,-38,-36,-32,-41,-41,-55,-38,-34,-32,-36,-36,-37,-49,-37,-35,-34,-28,-56,-51,-57,-39,-38,-36,-38,-36,-40,-49,-40,-39,-38,-40,-40,-39,-48,-40,-38,-35,-23];
const groceryOthers = [
  [20,21,22,18,20,16,18,22,17,14,13,12,14,20,29,22,20,18,14,12,16,14,26,8,6,4,3,10,18,28,31,15,17,-5,-12,-20,-35,-28,-27,-26,-24,-30,-32,-45,-27,-22,-20,-23,-24,-26,-38,-26,-25,-24,-12,-47,-44,-48,-28,-27,-26,-27,-25,-30,-40,-28,-27,-26,-28,-28,-27,-36,-28,-26,-22,-10],
  [13,15,17,16,18,14,12,10,9,8,7,8,10,16,22,16,14,12,9,8,11,10,12,5,2,0,-2,6,12,22,21,6,8,-12,-18,-26,-42,-34,-33,-32,-30,-36,-38,-50,-33,-28,-26,-29,-30,-32,-44,-32,-31,-30,-24,-52,-48,-53,-34,-33,-32,-33,-31,-35,-45,-33,-32,-31,-33,-33,-32,-42,-33,-31,-28,-16],
  [8,10,12,11,14,10,9,8,7,5,4,5,6,12,18,12,10,8,5,4,7,6,8,2,-1,-3,-4,3,8,16,15,2,3,-15,-22,-30,-48,-40,-40,-38,-36,-42,-44,-58,-39,-34,-32,-35,-36,-38,-52,-38,-37,-36,-30,-58,-54,-60,-40,-39,-38,-39,-37,-42,-52,-40,-39,-38,-40,-40,-39,-50,-40,-38,-35,-22],
  [2,4,6,5,8,4,3,2,1,0,-1,0,2,6,10,6,4,3,0,-2,2,1,3,-3,-5,-6,-8,-2,4,12,11,-2,-1,-18,-25,-34,-52,-44,-44,-42,-40,-46,-48,-62,-43,-38,-36,-39,-40,-42,-56,-42,-41,-40,-34,-62,-58,-64,-44,-43,-42,-43,-41,-46,-56,-44,-43,-42,-44,-44,-43,-54,-44,-42,-39,-28],
  [-7,-3,-1,-2,0,-3,-4,-2,-3,-5,-6,-4,-3,2,6,2,0,-1,-4,-6,-3,-4,-2,-8,-10,-11,-13,-7,-2,6,5,-8,-6,-22,-28,-38,-56,-48,-48,-46,-44,-50,-52,-66,-47,-42,-40,-43,-44,-46,-60,-46,-45,-44,-38,-66,-62,-68,-48,-47,-46,-47,-45,-50,-60,-48,-47,-46,-48,-48,-47,-58,-48,-46,-43,-33],
  [0,2,3,1,4,2,1,0,-1,-2,-3,-2,0,4,8,4,2,0,-2,-4,0,-1,1,-5,-7,-9,-10,-4,0,8,8,-4,-3,-20,-30,-40,-58,-58,-57,-55,-52,-60,-64,-77,-56,-52,-50,-55,-58,-62,-83,-60,-58,-56,-50,-77,-72,-79,-58,-57,-56,-57,-56,-62,-80,-60,-58,-57,-60,-60,-58,-76,-62,-60,-58,-50],
  [5,7,9,8,11,7,6,5,4,3,2,3,4,9,14,9,7,6,3,1,4,3,5,0,-2,-4,-5,1,6,14,13,0,1,-16,-23,-32,-50,-42,-42,-40,-38,-44,-46,-60,-41,-36,-34,-37,-38,-40,-54,-40,-39,-38,-32,-60,-56,-60,-10,-6,-4,-2,-74,-72,-78,-62,-60,-58,-60,-60,-62,-68,-60,-58,-56,-48],
  [10,12,8,9,12,9,8,7,6,4,3,4,5,10,15,10,8,7,4,3,6,5,7,1,-3,-5,-6,2,7,14,14,1,2,-14,-21,-30,-50,-50,-50,-48,-46,-54,-58,-72,-55,-52,-50,-56,-58,-62,-78,-58,-56,-55,-8,-70,-66,-74,-56,-55,-54,-56,-55,-60,-76,-56,-55,-54,-56,-56,-55,-70,-56,-54,-52,-42],
  [16,18,14,17,19,16,15,13,12,10,9,10,12,18,24,18,16,14,11,10,13,12,14,6,4,2,0,8,14,24,24,10,12,-8,-15,-24,-38,-30,-30,-28,-26,-32,-35,-48,-30,-25,-23,-26,-27,-29,-42,-30,-29,-28,-22,-50,-46,-51,-31,-30,-29,-30,-28,-32,-43,-30,-29,-28,-30,-30,-29,-38,-30,-28,-25,-14],
  [18,16,19,21,17,19,14,16,13,11,12,9,11,17,25,19,17,15,13,11,14,12,17,7,5,3,1,9,15,25,27,12,14,-6,-13,-22,-40,-32,-28,-31,-27,-33,-30,-46,-29,-26,-22,-27,-25,-30,-40,-28,-30,-26,-20,-48,-45,-49,-29,-32,-27,-31,-26,-33,-42,-29,-31,-27,-29,-31,-28,-39,-31,-27,-24,-12],
  [-3,0,2,0,3,-1,-2,-1,-2,-4,-4,-3,-1,3,7,3,1,-1,-3,-5,-1,-2,0,-6,-8,-10,-12,-5,-1,7,6,-6,-5,-21,-29,-39,-57,-52,-54,-50,-49,-55,-56,-70,-50,-47,-44,-50,-48,-52,-65,-50,-48,-47,-42,-70,-64,-72,-51,-50,-49,-51,-48,-55,-66,-52,-50,-49,-52,-51,-50,-63,-52,-50,-47,-38],
  [12,9,11,13,15,12,10,12,8,7,5,6,8,13,19,14,12,9,7,6,9,8,10,3,0,-2,-3,4,10,19,18,4,6,-13,-20,-28,-45,-37,-36,-35,-33,-38,-41,-53,-36,-31,-29,-32,-33,-35,-48,-35,-34,-33,-27,-55,-51,-56,-37,-36,-35,-36,-34,-38,-48,-36,-35,-34,-36,-36,-35,-45,-36,-34,-31,-19],
  [6,3,5,4,7,5,2,3,1,1,0,1,3,7,12,7,5,4,1,0,3,2,4,-2,-4,-5,-7,0,5,12,10,-3,-2,-17,-24,-33,-52,-62,-60,-58,-56,-63,-66,-76,-60,-56,-54,-58,-60,-64,-80,-62,-60,-58,-54,-75,-70,-76,-60,-58,-57,-59,-58,-63,-78,-62,-60,-58,-61,-62,-60,-74,-62,-60,-57,-46]
];

// layout of the six sub-figures (pixel positions in the page)
const panels = [
  {tag: "(a)", title: "Workplaces", main: workplacesMain, others: workplacesOthers, ticks: workplacesTicks, dash: "#b9587c",
   axisX: 31, x0: 40, x1: 567, yTop: 28.3, yBot: 333.3, baseY: 348.3, gridEnd: 581, dashTop: 3, capX: 302, capY: 437},
  {tag: "(b)", title: "Transit Stations", main: transitMain, others: transitOthers, ticks: transitTicks, dash: "#e2a2c4",
   axisX: 658.3, x0: 667.7, x1: 1189.3, yTop: 14, yBot: 340, baseY: 348.3, gridEnd: 1203, dashTop: 3, capX: 911, capY: 437},
  {tag: "(c)", title: "Retail and Recreation", main: retailMain, others: retailOthers, ticks: retailTicks, dash: "#e2a2c4",
   axisX: 36.7, x0: 46.3, x1: 572.2, yTop: 491, yBot: 814.3, baseY: 824, gridEnd: 586, dashTop: 480, capX: 293, capY: 913},
  {tag: "(d)", title: "Residential", main: residentialMain, others: residentialOthers, ticks: residentialTicks, dash: "#e2a2c4",
   axisX: 650.4, x0: 658.3, x1: 1193, yTop: 503.7, yBot: 793.3, baseY: 824, gridEnd: 1207, dashTop: 480, capX: 901, capY: 913},
  {tag: "(e)", title: "Parks", main: parksMain, others: parksOthers, ticks: parksTicks, dash: "#e2a2c4",
   axisX: 36.7, x0: 46.3, x1: 572.2, yTop: 981, yBot: 1290, baseY: 1299, gridEnd: 586, dashTop: 955, capX: 293, capY: 1390},
  {tag: "(f)", title: "Grocery and Pharmacy", main: groceryMain, others: groceryOthers, ticks: groceryTicks, dash: "#e2a2c4",
   axisX: 658.3, x0: 668.1, x1: 1193, yTop: 964.7, yBot: 1290, baseY: 1299, gridEnd: 1207, dashTop: 955, capX: 936, capY: 1390}
];

const svg = d3.select("#fig");
const serif = "'Liberation Serif', 'Times New Roman', serif";

// null = missing day, the line is drawn straight across it
const toPoints = arr => arr.map((v, i) => [i, v]).filter(p => p[1] !== null);

panels.forEach(p => {
  const g = svg.append("g");

  const x = d3.scaleLinear().domain([0, 76]).range([p.x0, p.x1]);
  const y = d3.scaleLinear().domain([d3.min(p.ticks), d3.max(p.ticks)]).range([p.yBot, p.yTop]);

  // dotted grid
  g.selectAll(".grid")
   .data(p.ticks)
   .enter().append("line")
   .attr("x1", p.axisX).attr("x2", p.gridEnd)
   .attr("y1", d => y(d)).attr("y2", d => y(d))
   .attr("stroke", "#bdbdbd")
   .attr("stroke-width", 0.9)
   .attr("stroke-dasharray", "1,3");

  // policy date
  g.append("line")
   .attr("x1", x(lockdownDay)).attr("x2", x(lockdownDay))
   .attr("y1", p.dashTop).attr("y2", p.baseY)
   .attr("stroke", p.dash)
   .attr("stroke-width", 1.3)
   .attr("stroke-dasharray", "3.5,2.5");

  const line = d3.line().x(d => x(d[0])).y(d => y(d[1]));

  g.selectAll(".other")
   .data(p.others)
   .enter().append("path")
   .attr("d", d => line(toPoints(d)))
   .attr("fill", "none")
   .attr("stroke", "#c4c4c4")
   .attr("stroke-width", 1.1)
   .attr("stroke-linejoin", "round");

  g.append("path")
   .attr("d", line(toPoints(p.main)))
   .attr("fill", "none")
   .attr("stroke", "#000")
   .attr("stroke-width", 2)
   .attr("stroke-linejoin", "round");

  // y axis
  const yAxis = g.append("g")
                 .attr("transform", `translate(${p.axisX},0)`)
                 .call(d3.axisLeft(y).tickValues(p.ticks).tickSize(4).tickSizeOuter(0).tickPadding(4));
  yAxis.select(".domain").attr("stroke", "#999");
  yAxis.selectAll(".tick line").attr("stroke", "#999");
  yAxis.selectAll("text")
       .attr("font-family", serif)
       .attr("font-size", 10)
       .attr("fill", "#444")
       .text(d => String(d));

  // x axis
  const xAxis = g.append("g")
                 .attr("transform", `translate(0,${p.baseY})`)
                 .call(d3.axisBottom(x).tickValues(tickDays).tickSize(5).tickSizeOuter(0).tickPadding(6)
                         .tickFormat((d, i) => tickLabels[i]));
  xAxis.select(".domain").attr("stroke", "#999");
  xAxis.selectAll(".tick line").attr("stroke", "#999");
  xAxis.selectAll("text")
       .attr("font-family", serif)
       .attr("font-size", 20)
       .attr("fill", "#111");
  xAxis.selectAll("text").filter((d, i) => i === tickDays.length - 1)
       .attr("fill", "#000").attr("stroke", "#000").attr("stroke-width", 0.4);

  // caption
  const cap = g.append("text")
               .attr("x", p.capX).attr("y", p.capY)
               .attr("text-anchor", "middle")
               .attr("font-family", serif)
               .attr("font-size", 28)
               .attr("letter-spacing", 0.8)
               .attr("fill", "#000");
  cap.append("tspan").attr("font-weight", "bold").text(p.tag);
  cap.append("tspan").text(" " + p.title);
});
</script>
</body>
</html>
